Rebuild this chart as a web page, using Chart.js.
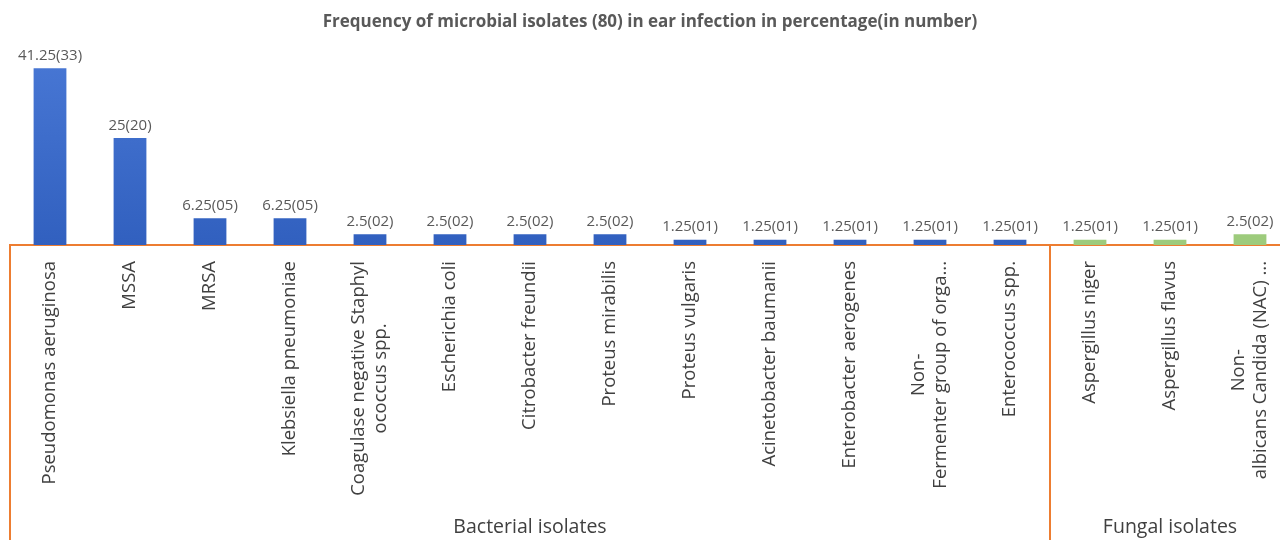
<!DOCTYPE html>
<html>
<head>
<meta charset="utf-8">
<script src="https://cdn.jsdelivr.net/npm/chart.js@4"></script>
<style>
  html, body { margin: 0; padding: 0; background: #fff; overflow: hidden; }
  #wrap { width: 1290px; height: 540px; }
</style>
</head>
<body>
<div id="wrap"><canvas id="barChart" width="1290" height="540"></canvas></div>
<script>
// data
var isolates = [
    'Pseudomonas aeruginosa', 'MSSA', 'MRSA', 'Klebsiella pneumoniae',
    ['Coagulase negative Staphyl', 'ococcus spp.'], 'Escherichia coli',
    'Citrobacter freundii', 'Proteus mirabilis', 'Proteus vulgaris',
    'Acinetobacter baumanii', 'Enterobacter aerogenes',
    ['Non-', 'Fermenter group of orga...'], 'Enterococcus spp.',
    'Aspergillus niger', 'Aspergillus flavus', ['Non-', 'albicans Candida (NAC) ...']
];
var percentages = [41.25, 25, 6.25, 6.25, 2.5, 2.5, 2.5, 2.5, 1.25, 1.25, 1.25, 1.25, 1.25, 1.25, 1.25, 2.5];
var counts = ['33', '20', '05', '05', '02', '02', '02', '02', '01', '01', '01', '01', '01', '01', '01', '02'];
var groupNames = ['Bacterial isolates', 'Fungal isolates'];
var groupSizes = [13, 3];

var orange = '#ED7D31';
var fontFamily = '"Open Sans", sans-serif';

// which group each bar belongs to
var groupOf = [];
groupSizes.forEach(function (n, g) {
    for (var i = 0; i < n; i++) groupOf.push(g);
});

function barColor(ctx) {
    if (groupOf[ctx.dataIndex] === 1) return '#9dcb7c';
    var area = ctx.chart.chartArea;
    if (!area) return '#3a68c8';
    var grad = ctx.chart.ctx.createLinearGradient(0, area.top, 0, area.bottom);
    grad.addColorStop(0, '#4a79d6');
    grad.addColorStop(1, '#3160bf');
    return grad;
}

// value labels above the bars, e.g. 41.25(33)
var valueLabels = {
    id: 'valueLabels',
    afterDatasetsDraw: function (chart) {
        var ctx = chart.ctx;
        var meta = chart.getDatasetMeta(0);
        ctx.save();
        ctx.font = '15px ' + fontFamily;
        ctx.fillStyle = '#595959';
        ctx.textAlign = 'center';
        ctx.textBaseline = 'bottom';
        meta.data.forEach(function (bar, i) {
            ctx.fillText(percentages[i] + '(' + counts[i] + ')', bar.x, bar.y - 5);
        });
        ctx.restore();
    }
};

// rotated category labels; lines of a wrapped label are centred on each other
var categoryLabels = {
    id: 'categoryLabels',
    afterDraw: function (chart) {
        var ctx = chart.ctx;
        var x = chart.scales.x;
        var size = 18.5;
        var lineH = size * 1.2;
        var top = chart.chartArea.bottom + 16;
        ctx.save();
        ctx.font = size + 'px ' + fontFamily;
        ctx.fillStyle = '#404040';
        ctx.textAlign = 'center';
        ctx.textBaseline = 'middle';
        isolates.forEach(function (label, i) {
            var lines = Array.isArray(label) ? label : [label];
            var w = 0;
            lines.forEach(function (l) { w = Math.max(w, ctx.measureText(l).width); });
            ctx.save();
            ctx.translate(x.getPixelForValue(i), top);
            ctx.rotate(-Math.PI / 2);
            lines.forEach(function (l, j) {
                ctx.fillText(l, -w / 2, (j - (lines.length - 1) / 2) * lineH);
            });
            ctx.restore();
        });
        ctx.restore();
    }
};

// group separators and group names under the category labels
var groupAxis = {
    id: 'groupAxis',
    afterDraw: function (chart) {
        var ctx = chart.ctx;
        var x = chart.scales.x;
        var half = (x.getPixelForValue(1) - x.getPixelForValue(0)) / 2;
        var top = chart.chartArea.bottom;
        var bottom = chart.height;
        ctx.save();
        ctx.strokeStyle = orange;
        ctx.lineWidth = 2;
        ctx.font = '19.5px ' + fontFamily;
        ctx.fillStyle = '#404040';
        ctx.textAlign = 'center';
        ctx.textBaseline = 'middle';
        var start = 0;
        groupSizes.forEach(function (n, g) {
            var left = x.getPixelForValue(start) - half;
            var right = x.getPixelForValue(start + n - 1) + half;
            ctx.beginPath();
            ctx.moveTo(left, top);
            ctx.lineTo(left, bottom);
            ctx.stroke();
            ctx.fillText(groupNames[g], (left + right) / 2, bottom - 13);
            start += n;
        });
        ctx.restore();
    }
};

var ctxBar = document.getElementById('barChart').getContext('2d');
var barChart = new Chart(ctxBar, {
    type: 'bar',
    data: {
        labels: isolates,
        datasets: [{
            label: 'Percentage',
            data: percentages,
            backgroundColor: barColor,
            barPercentage: 0.41,
            categoryPercentage: 1
        }]
    },
    options: {
        responsive: false,
        animation: false,
        layout: {
            padding: { left: 10, right: 0, top: 12, bottom: 0 }
        },
        plugins: {
            legend: { display: false },
            tooltip: { enabled: false },
            title: {
                display: true,
                text: 'Frequency of microbial isolates (80) in ear infection in percentage(in number)',
                color: '#595959',
                font: { family: fontFamily, size: 17, weight: 'bold' },
                padding: { top: 0, bottom: 7 }
            }
        },
        scales: {
            x: {
                grid: { display: false, drawTicks: false },
                border: { display: true, color: orange, width: 2 },
                ticks: { display: false },
                afterFit: function (scale) {
                    scale.height = 295;
                }
            },
            y: {
                display: false,
                min: 0,
                max: 48
            }
        }
    },
    plugins: [valueLabels, categoryLabels, groupAxis]
});
</script>
</body>
</html>
